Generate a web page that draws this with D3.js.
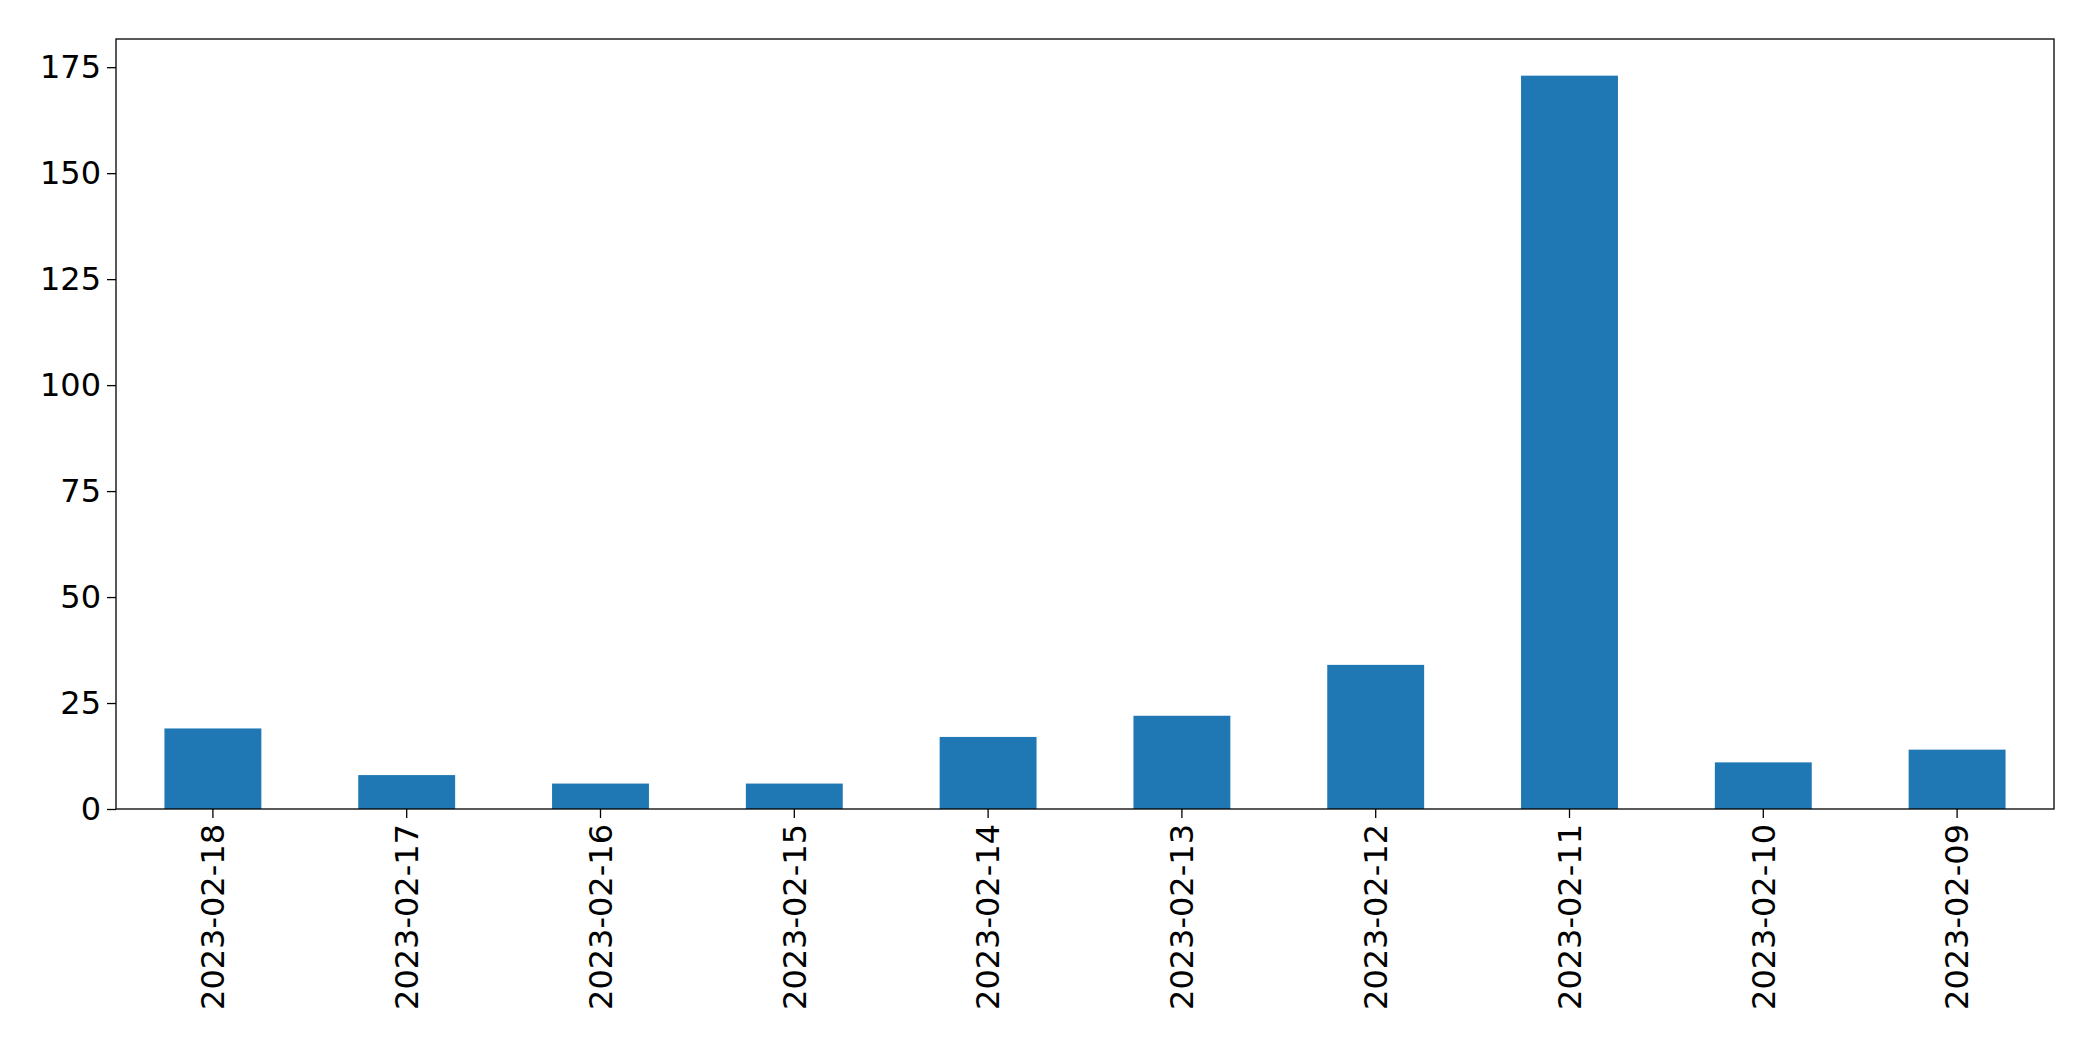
<!DOCTYPE html>
<html>
<head>
<meta charset="utf-8">
<script src="https://cdn.jsdelivr.net/npm/d3@7"></script>
<style>
  body { margin: 0; background: #fff; }
  text { font-family: "DejaVu Sans", sans-serif; }
</style>
</head>
<body>
<svg id="chart" width="2093" height="1061"></svg>
<script>
const dates = ["2023-02-18", "2023-02-17", "2023-02-16", "2023-02-15", "2023-02-14",
  "2023-02-13", "2023-02-12", "2023-02-11", "2023-02-10", "2023-02-09"];
const counts = [19, 8, 6, 6, 17, 22, 34, 173, 11, 14];
const yTicks = [0, 25, 50, 75, 100, 125, 150, 175];

const margin = { left: 116, right: 39, top: 39, bottom: 252 };
const width = 2093, height = 1061;

const svg = d3.select("#chart");

const x = d3.scaleBand()
  .domain(dates)
  .range([margin.left, width - margin.right])
  .paddingInner(0.5)
  .paddingOuter(0.25);

const y = d3.scaleLinear()
  .domain([0, d3.max(counts) * 1.05])
  .range([height - margin.bottom, margin.top]);

svg.append("g")
  .selectAll("rect")
  .data(counts)
  .join("rect")
  .attr("x", (d, i) => x(dates[i]))
  .attr("y", d => y(d))
  .attr("width", x.bandwidth())
  .attr("height", d => y(0) - y(d))
  .attr("fill", "#1f77b4");

const yAxis = svg.append("g")
  .attr("transform", `translate(${margin.left},0)`)
  .call(d3.axisLeft(y).tickValues(yTicks).tickSize(9).tickPadding(6));

const xAxis = svg.append("g")
  .attr("transform", `translate(0,${height - margin.bottom})`)
  .call(d3.axisBottom(x).tickSize(9).tickPadding(6));

xAxis.selectAll("text")
  .attr("transform", "rotate(-90)")
  .attr("text-anchor", "end")
  .attr("dy", "0.35em")
  .attr("x", -15)
  .attr("y", 0);

[xAxis, yAxis].forEach(a => {
  a.select(".domain").remove();
  a.selectAll("text").attr("font-size", 32).attr("fill", "#000");
  a.selectAll("line").attr("stroke", "#000").attr("stroke-width", 1.3);
});

svg.append("rect")
  .attr("x", margin.left)
  .attr("y", margin.top)
  .attr("width", width - margin.left - margin.right)
  .attr("height", height - margin.top - margin.bottom)
  .attr("fill", "none")
  .attr("stroke", "#000")
  .attr("stroke-width", 1.3);
</script>
</body>
</html>
